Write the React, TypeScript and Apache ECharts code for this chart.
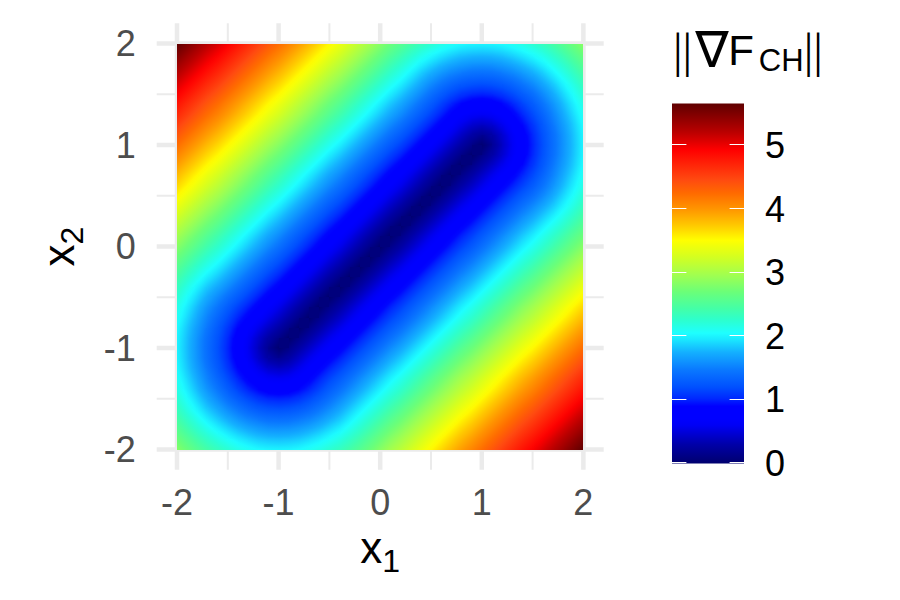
import React, { useEffect, useRef } from "react";
import * as echarts from "echarts";

const FONT = "Liberation Sans, Arial, sans-serif";

const x1Nodes = [-2,-1.9,-1.8,-1.7,-1.6,-1.5,-1.4,-1.3,-1.2,-1.1,-1,-0.9,-0.8,-0.7,-0.6,-0.5,-0.4,-0.3,-0.2,-0.1,0,0.1,0.2,0.3,0.4,0.5,0.6,0.7,0.8,0.9,1,1.1,1.2,1.3,1.4,1.5,1.6,1.7,1.8,1.9,2];
const x2Nodes = [2,1.9,1.8,1.7,1.6,1.5,1.4,1.3,1.2,1.1,1,0.9,0.8,0.7,0.6,0.5,0.4,0.3,0.2,0.1,0,-0.1,-0.2,-0.3,-0.4,-0.5,-0.6,-0.7,-0.8,-0.9,-1,-1.1,-1.2,-1.3,-1.4,-1.5,-1.6,-1.7,-1.8,-1.9,-2];

// ||grad F_CH|| x 100, read row by row from x2 = 2 (top) to x2 = -2 (bottom)
const normGrid = [
[566,552,537,523,509,495,481,467,453,438,424,410,396,382,368,354,339,325,311,297,283,269,256,244,233,224,215,209,204,201,200,201,204,209,215,224,233,244,256,269,283],
[552,537,523,509,495,481,467,453,438,424,410,396,382,368,354,339,325,311,297,283,269,255,241,228,216,206,197,190,184,181,180,181,184,190,197,206,216,228,241,255,269],
[537,523,509,495,481,467,453,438,424,410,396,382,368,354,339,325,311,297,283,269,255,240,226,213,200,189,179,171,165,161,160,161,165,171,179,189,200,213,226,241,256],
[523,509,495,481,467,453,438,424,410,396,382,368,354,339,325,311,297,283,269,255,240,226,212,198,184,172,161,152,146,141,140,141,146,152,161,172,184,198,213,228,244],
[509,495,481,467,453,438,424,410,396,382,368,354,339,325,311,297,283,269,255,240,226,212,198,184,170,156,144,134,126,122,120,122,126,134,144,156,170,184,200,216,233],
[495,481,467,453,438,424,410,396,382,368,354,339,325,311,297,283,269,255,240,226,212,198,184,170,156,141,128,117,108,102,100,102,108,117,128,141,156,172,189,206,224],
[481,467,453,438,424,410,396,382,368,354,339,325,311,297,283,269,255,240,226,212,198,184,170,156,141,127,113,100,89,82,80,82,89,100,113,128,144,161,179,197,215],
[467,453,438,424,410,396,382,368,354,339,325,311,297,283,269,255,240,226,212,198,184,170,156,141,127,113,99,85,72,63,60,63,72,85,100,117,134,152,171,190,209],
[453,438,424,410,396,382,368,354,339,325,311,297,283,269,255,240,226,212,198,184,170,156,141,127,113,99,85,71,57,45,40,45,57,72,89,108,126,146,165,184,204],
[438,424,410,396,382,368,354,339,325,311,297,283,269,255,240,226,212,198,184,170,156,141,127,113,99,85,71,57,42,28,20,28,45,63,82,102,122,141,161,181,201],
[424,410,396,382,368,354,339,325,311,297,283,269,255,240,226,212,198,184,170,156,141,127,113,99,85,71,57,42,28,14,0,20,40,60,80,100,120,140,160,180,200],
[410,396,382,368,354,339,325,311,297,283,269,255,240,226,212,198,184,170,156,141,127,113,99,85,71,57,42,28,14,0,14,28,45,63,82,102,122,141,161,181,201],
[396,382,368,354,339,325,311,297,283,269,255,240,226,212,198,184,170,156,141,127,113,99,85,71,57,42,28,14,0,14,28,42,57,72,89,108,126,146,165,184,204],
[382,368,354,339,325,311,297,283,269,255,240,226,212,198,184,170,156,141,127,113,99,85,71,57,42,28,14,0,14,28,42,57,71,85,100,117,134,152,171,190,209],
[368,354,339,325,311,297,283,269,255,240,226,212,198,184,170,156,141,127,113,99,85,71,57,42,28,14,0,14,28,42,57,71,85,99,113,128,144,161,179,197,215],
[354,339,325,311,297,283,269,255,240,226,212,198,184,170,156,141,127,113,99,85,71,57,42,28,14,0,14,28,42,57,71,85,99,113,127,141,156,172,189,206,224],
[339,325,311,297,283,269,255,240,226,212,198,184,170,156,141,127,113,99,85,71,57,42,28,14,0,14,28,42,57,71,85,99,113,127,141,156,170,184,200,216,233],
[325,311,297,283,269,255,240,226,212,198,184,170,156,141,127,113,99,85,71,57,42,28,14,0,14,28,42,57,71,85,99,113,127,141,156,170,184,198,213,228,244],
[311,297,283,269,255,240,226,212,198,184,170,156,141,127,113,99,85,71,57,42,28,14,0,14,28,42,57,71,85,99,113,127,141,156,170,184,198,212,226,241,256],
[297,283,269,255,240,226,212,198,184,170,156,141,127,113,99,85,71,57,42,28,14,0,14,28,42,57,71,85,99,113,127,141,156,170,184,198,212,226,240,255,269],
[283,269,255,240,226,212,198,184,170,156,141,127,113,99,85,71,57,42,28,14,0,14,28,42,57,71,85,99,113,127,141,156,170,184,198,212,226,240,255,269,283],
[269,255,240,226,212,198,184,170,156,141,127,113,99,85,71,57,42,28,14,0,14,28,42,57,71,85,99,113,127,141,156,170,184,198,212,226,240,255,269,283,297],
[256,241,226,212,198,184,170,156,141,127,113,99,85,71,57,42,28,14,0,14,28,42,57,71,85,99,113,127,141,156,170,184,198,212,226,240,255,269,283,297,311],
[244,228,213,198,184,170,156,141,127,113,99,85,71,57,42,28,14,0,14,28,42,57,71,85,99,113,127,141,156,170,184,198,212,226,240,255,269,283,297,311,325],
[233,216,200,184,170,156,141,127,113,99,85,71,57,42,28,14,0,14,28,42,57,71,85,99,113,127,141,156,170,184,198,212,226,240,255,269,283,297,311,325,339],
[224,206,189,172,156,141,127,113,99,85,71,57,42,28,14,0,14,28,42,57,71,85,99,113,127,141,156,170,184,198,212,226,240,255,269,283,297,311,325,339,354],
[215,197,179,161,144,128,113,99,85,71,57,42,28,14,0,14,28,42,57,71,85,99,113,127,141,156,170,184,198,212,226,240,255,269,283,297,311,325,339,354,368],
[209,190,171,152,134,117,100,85,71,57,42,28,14,0,14,28,42,57,71,85,99,113,127,141,156,170,184,198,212,226,240,255,269,283,297,311,325,339,354,368,382],
[204,184,165,146,126,108,89,72,57,42,28,14,0,14,28,42,57,71,85,99,113,127,141,156,170,184,198,212,226,240,255,269,283,297,311,325,339,354,368,382,396],
[201,181,161,141,122,102,82,63,45,28,14,0,14,28,42,57,71,85,99,113,127,141,156,170,184,198,212,226,240,255,269,283,297,311,325,339,354,368,382,396,410],
[200,180,160,140,120,100,80,60,40,20,0,14,28,42,57,71,85,99,113,127,141,156,170,184,198,212,226,240,255,269,283,297,311,325,339,354,368,382,396,410,424],
[201,181,161,141,122,102,82,63,45,28,20,28,42,57,71,85,99,113,127,141,156,170,184,198,212,226,240,255,269,283,297,311,325,339,354,368,382,396,410,424,438],
[204,184,165,146,126,108,89,72,57,45,40,45,57,71,85,99,113,127,141,156,170,184,198,212,226,240,255,269,283,297,311,325,339,354,368,382,396,410,424,438,453],
[209,190,171,152,134,117,100,85,72,63,60,63,72,85,99,113,127,141,156,170,184,198,212,226,240,255,269,283,297,311,325,339,354,368,382,396,410,424,438,453,467],
[215,197,179,161,144,128,113,100,89,82,80,82,89,100,113,127,141,156,170,184,198,212,226,240,255,269,283,297,311,325,339,354,368,382,396,410,424,438,453,467,481],
[224,206,189,172,156,141,128,117,108,102,100,102,108,117,128,141,156,170,184,198,212,226,240,255,269,283,297,311,325,339,354,368,382,396,410,424,438,453,467,481,495],
[233,216,200,184,170,156,144,134,126,122,120,122,126,134,144,156,170,184,198,212,226,240,255,269,283,297,311,325,339,354,368,382,396,410,424,438,453,467,481,495,509],
[244,228,213,198,184,172,161,152,146,141,140,141,146,152,161,172,184,198,212,226,240,255,269,283,297,311,325,339,354,368,382,396,410,424,438,453,467,481,495,509,523],
[256,241,226,213,200,189,179,171,165,161,160,161,165,171,179,189,200,213,226,240,255,269,283,297,311,325,339,354,368,382,396,410,424,438,453,467,481,495,509,523,537],
[269,255,241,228,216,206,197,190,184,181,180,181,184,190,197,206,216,228,241,255,269,283,297,311,325,339,354,368,382,396,410,424,438,453,467,481,495,509,523,537,552],
[283,269,256,244,233,224,215,209,204,201,200,201,204,209,215,224,233,244,256,269,283,297,311,325,339,354,368,382,396,410,424,438,453,467,481,495,509,523,537,552,566],
];

const majorBreaks = [-2, -1, 0, 1, 2];
const minorBreaks = [-1.5, -0.5, 0.5, 1.5];
const colourBreaks = [0, 1, 2, 3, 4, 5];
const colourMax = 5.66;
// colour ramp
const rampValues = [0, 0.3, 0.6, 0.7, 0.9, 1.02, 1.2, 1.47, 1.75, 1.95, 2.05, 2.25, 2.44, 2.7, 2.96, 3.25, 3.51, 3.75, 3.98, 4.25, 4.46, 4.93, 5.2, 5.66];
const rampColours = ["#00006E", "#0000A8", "#0000F5", "#0000FF", "#0000FF", "#0028FF", "#0050FF", "#0A78FF", "#14B0FF", "#1AE8FF", "#1EFFFF", "#2CFFCF", "#44FFA6", "#6BFF78", "#A0FF50", "#D4FF20", "#FFFF00", "#FFC800", "#FF9900", "#FF6A00", "#FF4A10", "#FF0000", "#BC0000", "#5F0000"];

const colourOf = (v: number) => {
  const c = Math.min(colourMax, Math.max(0, v));
  let i = 0;
  while (i < rampValues.length - 2 && c > rampValues[i + 1]) i++;
  const f = (c - rampValues[i]) / (rampValues[i + 1] - rampValues[i]);
  return echarts.color.lerp(f, [rampColours[i], rampColours[i + 1]]) as string;
};

const gridLines = (breaks: number[], vertical: boolean, width: number) => ({
  type: "custom",
  xAxisIndex: 0,
  yAxisIndex: 0,
  silent: true,
  clip: false,
  z: 1,
  data: breaks.map((b) => [b]),
  renderItem: (_p: any, api: any) => {
    const b = api.value(0);
    const from = vertical ? api.coord([b, -2.2]) : api.coord([-2.2, b]);
    const to = vertical ? api.coord([b, 2.2]) : api.coord([2.2, b]);
    return {
      type: "line",
      shape: { x1: from[0], y1: from[1], x2: to[0], y2: to[1] },
      style: { stroke: "#EBEBEB", lineWidth: width },
    };
  },
});

const rasterData: number[][] = [];
x2Nodes.forEach((y, r) => x1Nodes.forEach((x, c) => rasterData.push([x, y, normGrid[r][c] / 100])));

const cellOffsets = [0, 0.25, 0.5, 0.75, 1];
const renderCell = (params: any, api: any) => {
  const n = x1Nodes.length;
  const r = Math.floor(params.dataIndex / n);
  const c = params.dataIndex % n;
  if (r >= n - 1 || c >= n - 1) return null;
  const tl = normGrid[r][c] / 100;
  const tr = normGrid[r][c + 1] / 100;
  const bl = normGrid[r + 1][c] / 100;
  const br = normGrid[r + 1][c + 1] / 100;
  const p0 = api.coord([x1Nodes[c], x2Nodes[r]]);
  const p1 = api.coord([x1Nodes[c + 1], x2Nodes[r + 1]]);
  const x0 = Math.round(p0[0]);
  const y0 = Math.round(p0[1]);
  const x1 = Math.round(p1[0]);
  const y1 = Math.round(p1[1]);
  const mid = (tl + tr + bl + br) / 4;
  const gx = (tr + br - tl - bl) / 2;
  const gy = (bl + br - tl - tr) / 2;
  const mag = Math.hypot(gx, gy);
  let fill: any = colourOf(mid);
  if (mag > 1e-3) {
    const ux = gx / mag;
    const uy = gy / mag;
    const half = (Math.abs(ux) + Math.abs(uy)) / 2;
    fill = {
      type: "linear",
      x: 0.5 - ux * half,
      y: 0.5 - uy * half,
      x2: 0.5 + ux * half,
      y2: 0.5 + uy * half,
      global: false,
      colorStops: cellOffsets.map((offset) => ({
        offset,
        color: colourOf(mid + mag * half * (2 * offset - 1)),
      })),
    };
  }
  return { type: "rect", shape: { x: x0, y: y0, width: x1 - x0, height: y1 - y0 }, style: { fill } };
};

const axisLabelStyle = { fontFamily: FONT, fontSize: 36, color: "#4D4D4D" };
const nameRich = {
  m: { fontFamily: FONT, fontSize: 44, color: "#000", padding: [0, 0, 10, 0] },
  s: { fontFamily: FONT, fontSize: 32, color: "#000", padding: [16, 0, 0, 0] },
};

export default function App() {
  const ref = useRef<HTMLDivElement>(null);
  useEffect(() => {
    document.body.style.margin = "0";
    const chart = echarts.init(ref.current!, null, { renderer: "svg" });
    chart.setOption({
      animation: false,
      backgroundColor: "#FFFFFF",
      grid: [
        { left: 156.7, top: 23.2, width: 447, height: 446.6 },
        { left: 672, top: 103.5, width: 72, height: 360 },
      ],
      xAxis: [
        {
          type: "value", gridIndex: 0, min: -2.2, max: 2.2,
          axisLine: { show: false }, axisTick: { show: false }, splitLine: { show: false },
          axisLabel: { ...axisLabelStyle, margin: 15, customValues: majorBreaks, showMinLabel: true, showMaxLabel: true },
          name: "{m|x}{s|1}", nameLocation: "middle", nameGap: 55,
          nameTextStyle: { rich: nameRich },
        },
        { type: "value", gridIndex: 1, min: 0, max: 1, show: false },
      ],
      yAxis: [
        {
          type: "value", gridIndex: 0, min: -2.2, max: 2.2,
          axisLine: { show: false }, axisTick: { show: false }, splitLine: { show: false },
          axisLabel: { ...axisLabelStyle, margin: 21, customValues: majorBreaks },
          name: "{m|x}{s|2}", nameLocation: "middle", nameGap: 66,
          nameTextStyle: { rich: nameRich },
        },
        {
          type: "value", gridIndex: 1, min: 0, max: colourMax, position: "right",
          axisLine: { show: false }, axisTick: { show: false }, splitLine: { show: false },
          axisLabel: { fontFamily: FONT, fontSize: 36, color: "#000", margin: 21, customValues: colourBreaks },
        },
      ],
      series: [
        gridLines(minorBreaks, true, 2),
        gridLines(minorBreaks, false, 2),
        gridLines(majorBreaks, true, 4.5),
        gridLines(majorBreaks, false, 4.5),
        {
          type: "custom", xAxisIndex: 0, yAxisIndex: 0, silent: true, z: 2, clip: false,
          data: rasterData, encode: { x: 0, y: 1 }, renderItem: renderCell,
        },
        {
          type: "custom", xAxisIndex: 1, yAxisIndex: 1, silent: true, z: 2, clip: false,
          data: [[0, colourMax]],
          renderItem: (_p: any, api: any) => {
            const a = api.coord([0, colourMax]);
            const b = api.coord([1, 0]);
            return {
              type: "rect",
              shape: { x: a[0], y: a[1], width: b[0] - a[0], height: b[1] - a[1] },
              style: {
                fill: {
                  type: "linear", x: 0, y: 1, x2: 0, y2: 0, global: false,
                  colorStops: rampValues.map((v, i) => ({ offset: v / colourMax, color: rampColours[i] })),
                },
              },
            };
          },
        },
        {
          type: "custom", xAxisIndex: 1, yAxisIndex: 1, silent: true, z: 3, clip: false,
          data: colourBreaks.map((b) => [0, b]),
          renderItem: (_p: any, api: any) => {
            const l = api.coord([0, api.value(1)]);
            const r = api.coord([1, api.value(1)]);
            const y = Math.min(Math.round(l[1]) - 0.5, 462.5);
            const len = (r[0] - l[0]) * 0.2;
            return {
              type: "group",
              children: [
                { type: "line", shape: { x1: l[0], y1: y, x2: l[0] + len, y2: y }, style: { stroke: "#FFFFFF", lineWidth: 1 } },
                { type: "line", shape: { x1: r[0] - len, y1: y, x2: r[0], y2: y }, style: { stroke: "#FFFFFF", lineWidth: 1 } },
              ],
            };
          },
        },
      ],
      graphic: [
        {
          type: "text", left: 673, top: 25, silent: true,
          style: {
            text: "{b|||}{n|∇}{m|F}{s|CH}{b|||}",
            rich: {
              b: { fontFamily: "Liberation Serif", fontSize: 48, fill: "#000", padding: [0, 0, 6, 0] },
              n: { fontFamily: "DejaVu Sans", fontSize: 50, fill: "#000", width: 33, padding: [0, 0, 6, 3] },
              m: { fontFamily: FONT, fontSize: 42, fill: "#000", padding: [0, 5, 6, 0] },
              s: { fontFamily: FONT, fontSize: 31, fill: "#000", padding: [14, 0, 0, 0] },
            },
          },
        },
      ],
    });
    return () => chart.dispose();
  }, []);
  return <div ref={ref} style={{ position: "fixed", left: 0, top: 0, width: 900, height: 600 }} />;
}
